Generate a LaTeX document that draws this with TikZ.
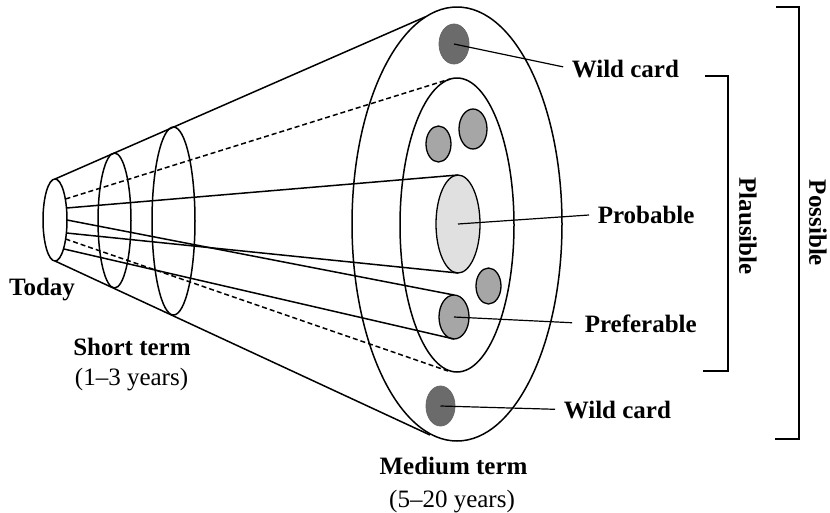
\documentclass[tikz,border=0pt]{standalone}
\usepackage{fontspec}
\setmainfont{Liberation Serif}
\usetikzlibrary{shapes.geometric}
\definecolor{wildc}{HTML}{6B6B6B}
\definecolor{midc}{HTML}{A6A6A6}
\definecolor{lightc}{HTML}{E0E0E0}
\begin{document}
\begin{tikzpicture}[x=1pt,y=-1pt,line width=1.5pt,
  ell/.style={ellipse,draw,inner sep=0pt,outer sep=0pt},
  wild/.style={ell,fill=wildc,draw=black!60,line width=0.8pt},
  midball/.style={ell,fill=midc,line width=1.3pt},
  lab/.style={font=\fontsize{25}{30}\selectfont\bfseries,inner sep=0pt},
  yrs/.style={font=\fontsize{25}{30}\selectfont,inner sep=0pt},
  dashline/.style={dash pattern=on 5pt off 3pt},
  pointer/.style={line width=1.2pt,shorten >=8pt}]
\useasboundingbox (0,0) rectangle (830,512);

% cone ellipses
\node[ell,minimum width=24pt,minimum height=82pt] (today) at (55,220) {};
\node[ell,minimum width=33pt,minimum height=135pt] (st1) at (114.5,220.5) {};
\node[ell,minimum width=43pt,minimum height=188pt] (st2) at (173.5,221) {};
\node[ell,minimum width=210pt,minimum height=434pt] (outer) at (457,224) {};
\node[ell,minimum width=114pt,minimum height=294pt] (inner) at (457,225) {};

% end points
\coordinate (t1) at (65.5,199);
\coordinate (t2) at (66.5,208);
\coordinate (t3) at (67,220);
\coordinate (t4) at (66.5,233);
\coordinate (t5) at (65.5,239);
\coordinate (t6) at (64,249);
\coordinate (o1) at (425,17);
\coordinate (o2) at (430,435);
\coordinate (i1) at (450,79);
\coordinate (i2) at (448,371);

% inner balls
\node[ell,fill=lightc,line width=1.3pt,minimum width=44pt,minimum height=98pt] (prob) at (458,224) {};
\node[midball,minimum width=30pt,minimum height=44pt] (pref) at (454,317) {};
\node[midball,minimum width=25pt,minimum height=36pt] (ballR) at (488.5,286) {};
\node[midball,minimum width=25pt,minimum height=36pt] (ballL) at (438.5,144) {};
\node[midball,minimum width=28pt,minimum height=40pt] (ballT) at (473,129) {};
\node[wild,minimum width=30pt,minimum height=40pt] (wcA) at (454,44) {};
\node[wild,minimum width=29pt,minimum height=40pt] (wcB) at (440.5,406) {};

% cone lines
\draw (today.north) -- (o1);
\draw (today.south) -- (o2);
\draw[dashline] (t1) -- (i1);
\draw[dashline] (t5) -- (i2);
\draw (t2) -- (prob.north);
\draw (t4) -- (prob.south);
\draw (t3) -- (pref.north);
\draw (t6) -- (pref.south);

% labels
\node[lab,anchor=base] (todayt) at (42,295) {Today};
\node[lab,anchor=base] (stt) at (132,355) {Short term};
\node[yrs,anchor=base] (sty) at (131.5,385) {(1–3 years)};
\node[lab,anchor=base] (mtt) at (453.5,474) {Medium term};
\node[yrs,anchor=base] (mty) at (452,507) {(5–20 years)};

\node[lab,anchor=base west] (wcAt) at (571,77) {Wild card};
\node[lab,anchor=base west] (probt) at (597,223) {Probable};
\node[lab,anchor=base west] (preft) at (584,332) {Preferable};
\node[lab,anchor=base west] (wcBt) at (563,418) {Wild card};

\draw[pointer] (wcA.center) -- (wcAt.west);
\draw[pointer] (prob.center) -- (probt.west);
\draw[pointer,shorten >=12pt] (pref.center) -- (preft.west);
\draw[pointer] (wcB.center) -- (wcBt.west);

% brackets
\draw (705,76) -- (728,76) -- (728,371) -- (703,371);
\draw (776,7) -- (799,7) -- (799,439) -- (775,439);
\node[lab,rotate=-90] (plaus) at (748,226) {Plausible};
\node[lab,rotate=-90] (poss) at (818,223) {Possible};
\end{tikzpicture}
\end{document}
